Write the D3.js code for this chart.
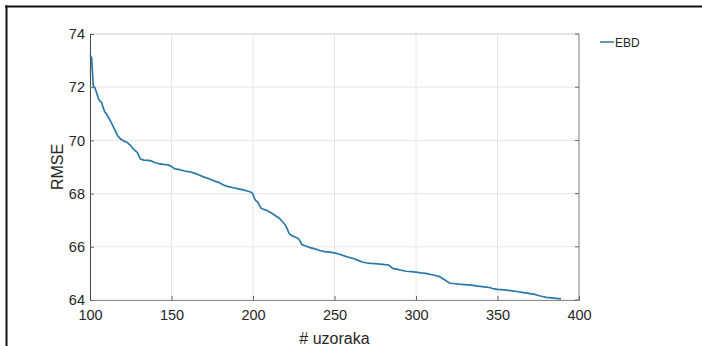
<!DOCTYPE html>
<html>
<head>
<meta charset="utf-8">
<script src="https://cdn.jsdelivr.net/npm/d3@7"></script>
<style>
  html, body { margin: 0; padding: 0; background: #fff; }
  svg { display: block; }
  text { font-family: "Liberation Sans", Arial, Helvetica, sans-serif; fill: #262626; }
</style>
</head>
<body>
<svg id="chart" width="702" height="346"></svg>
<script>
// ---- data ----
const sampleCounts = [100,101,102,103,104,105,106,107,108,109,110,111,113,115,117,119,121,123,125,127,129,130,131,133,136,138,140,142,145,148,150,152,155,158,161,164,167,170,173,176,179,182,185,188,191,194,197,199,200,201,202,203,204,205,206,208,210,212,214,216,218,220,221,222,223,224,226,228,229,230,232,235,238,241,244,247,250,253,256,259,262,265,267,269,272,275,278,281,283,284,285,286,288,291,294,297,300,303,306,309,312,314,315,316,317,318,319,320,321,323,326,330,334,338,342,345,347,350,354,358,362,366,370,373,375,377,380,383,386,389];
const rmseEBD = [73.20,73.10,72.05,71.98,71.80,71.60,71.48,71.44,71.25,71.08,71.00,70.90,70.68,70.42,70.17,70.04,69.97,69.92,69.80,69.65,69.55,69.42,69.30,69.26,69.25,69.22,69.16,69.13,69.10,69.08,69.02,68.93,68.90,68.85,68.82,68.77,68.70,68.62,68.56,68.48,68.42,68.32,68.26,68.22,68.18,68.14,68.09,68.05,67.98,67.80,67.72,67.68,67.55,67.45,67.42,67.38,67.32,67.24,67.16,67.08,66.95,66.80,66.68,66.52,66.45,66.42,66.36,66.30,66.20,66.08,66.04,65.97,65.92,65.86,65.82,65.80,65.77,65.72,65.66,65.60,65.55,65.48,65.43,65.40,65.38,65.37,65.35,65.33,65.32,65.28,65.22,65.18,65.16,65.12,65.08,65.07,65.05,65.02,65.00,64.96,64.92,64.89,64.86,64.82,64.78,64.74,64.70,64.66,64.63,64.62,64.60,64.58,64.56,64.52,64.49,64.47,64.43,64.40,64.38,64.35,64.32,64.28,64.24,64.21,64.17,64.14,64.10,64.08,64.06,64.04];
const xTicks = [100,150,200,250,300,350,400];
const yTicks = [64,66,68,70,72,74];
const seriesName = "EBD";
const xLabel = "# uzoraka";
const yLabel = "RMSE";

// ---- layout ----
const svg = d3.select("#chart");
const L = 90, R = 579, T = 34, B = 300;
const x = d3.scaleLinear().domain([100, 400]).range([L, R]);
const y = d3.scaleLinear().domain([64, 74]).range([B, T]);

// outer frame (screenshot border)
svg.append("line").attr("x1", 5).attr("x2", 702).attr("y1", 6.5).attr("y2", 6.5)
  .attr("stroke", "#111").attr("stroke-width", 2);
svg.append("line").attr("x1", 6.5).attr("x2", 6.5).attr("y1", 5.5).attr("y2", 346)
  .attr("stroke", "#111").attr("stroke-width", 2);

// grid
const g = svg.append("g");
g.selectAll(".vg").data(xTicks).enter().append("line")
  .attr("x1", d => x(d)).attr("x2", d => x(d)).attr("y1", T).attr("y2", B)
  .attr("stroke", "#e6e6e6").attr("stroke-width", 1);
g.selectAll(".hg").data(yTicks).enter().append("line")
  .attr("x1", L).attr("x2", R).attr("y1", d => y(d)).attr("y2", d => y(d))
  .attr("stroke", "#e6e6e6").attr("stroke-width", 1);

// box edges
svg.append("line").attr("x1", L).attr("x2", R).attr("y1", T).attr("y2", T).attr("stroke", "#d4d4d4");
svg.append("line").attr("x1", R).attr("x2", R).attr("y1", T).attr("y2", B).attr("stroke", "#8c8c8c");

// axes via d3
const xAxis = svg.append("g").attr("transform", `translate(0,${B})`)
  .call(d3.axisBottom(x).tickValues(xTicks).tickSize(-4).tickPadding(10).tickFormat(d3.format("d")));
const yAxis = svg.append("g").attr("transform", `translate(${L},0)`)
  .call(d3.axisLeft(y).tickValues(yTicks).tickSize(-4).tickPadding(5).tickFormat(d3.format("d")));
xAxis.select(".domain").attr("stroke", "#8a8a8a");
yAxis.select(".domain").attr("stroke", "#4a4a4a");
[xAxis, yAxis].forEach(a => {
  a.selectAll(".tick line").attr("stroke", "#666");
  a.selectAll("text").style("font-size", "14.5px").style("font-family", '"Liberation Sans", Arial, sans-serif').attr("fill", "#262626");
});
// right side ticks
svg.selectAll(".rt").data(yTicks).enter().append("line")
  .attr("x1", R - 4).attr("x2", R).attr("y1", d => y(d)).attr("y2", d => y(d)).attr("stroke", "#666");

// line
const lineGen = d3.line().x((d, i) => x(sampleCounts[i])).y(d => y(d));
svg.append("path").datum(rmseEBD).attr("d", lineGen)
  .attr("fill", "none").attr("stroke", "#2b78aa").attr("stroke-width", 1.7).attr("stroke-linejoin", "round");

// axis labels
svg.append("text").attr("x", (L + R) / 2).attr("y", 344).attr("text-anchor", "middle")
  .style("font-size", "16px").text(xLabel);
svg.append("text").attr("transform", `translate(63,${(T + B) / 2}) rotate(-90)`).attr("text-anchor", "middle")
  .style("font-size", "16px").text(yLabel);

// legend
svg.append("line").attr("x1", 600).attr("x2", 614).attr("y1", 42).attr("y2", 42)
  .attr("stroke", "#2b78aa").attr("stroke-width", 1.5);
svg.append("text").attr("x", 615).attr("y", 46.5).style("font-size", "12px").text(seriesName);
</script>
</body>
</html>
